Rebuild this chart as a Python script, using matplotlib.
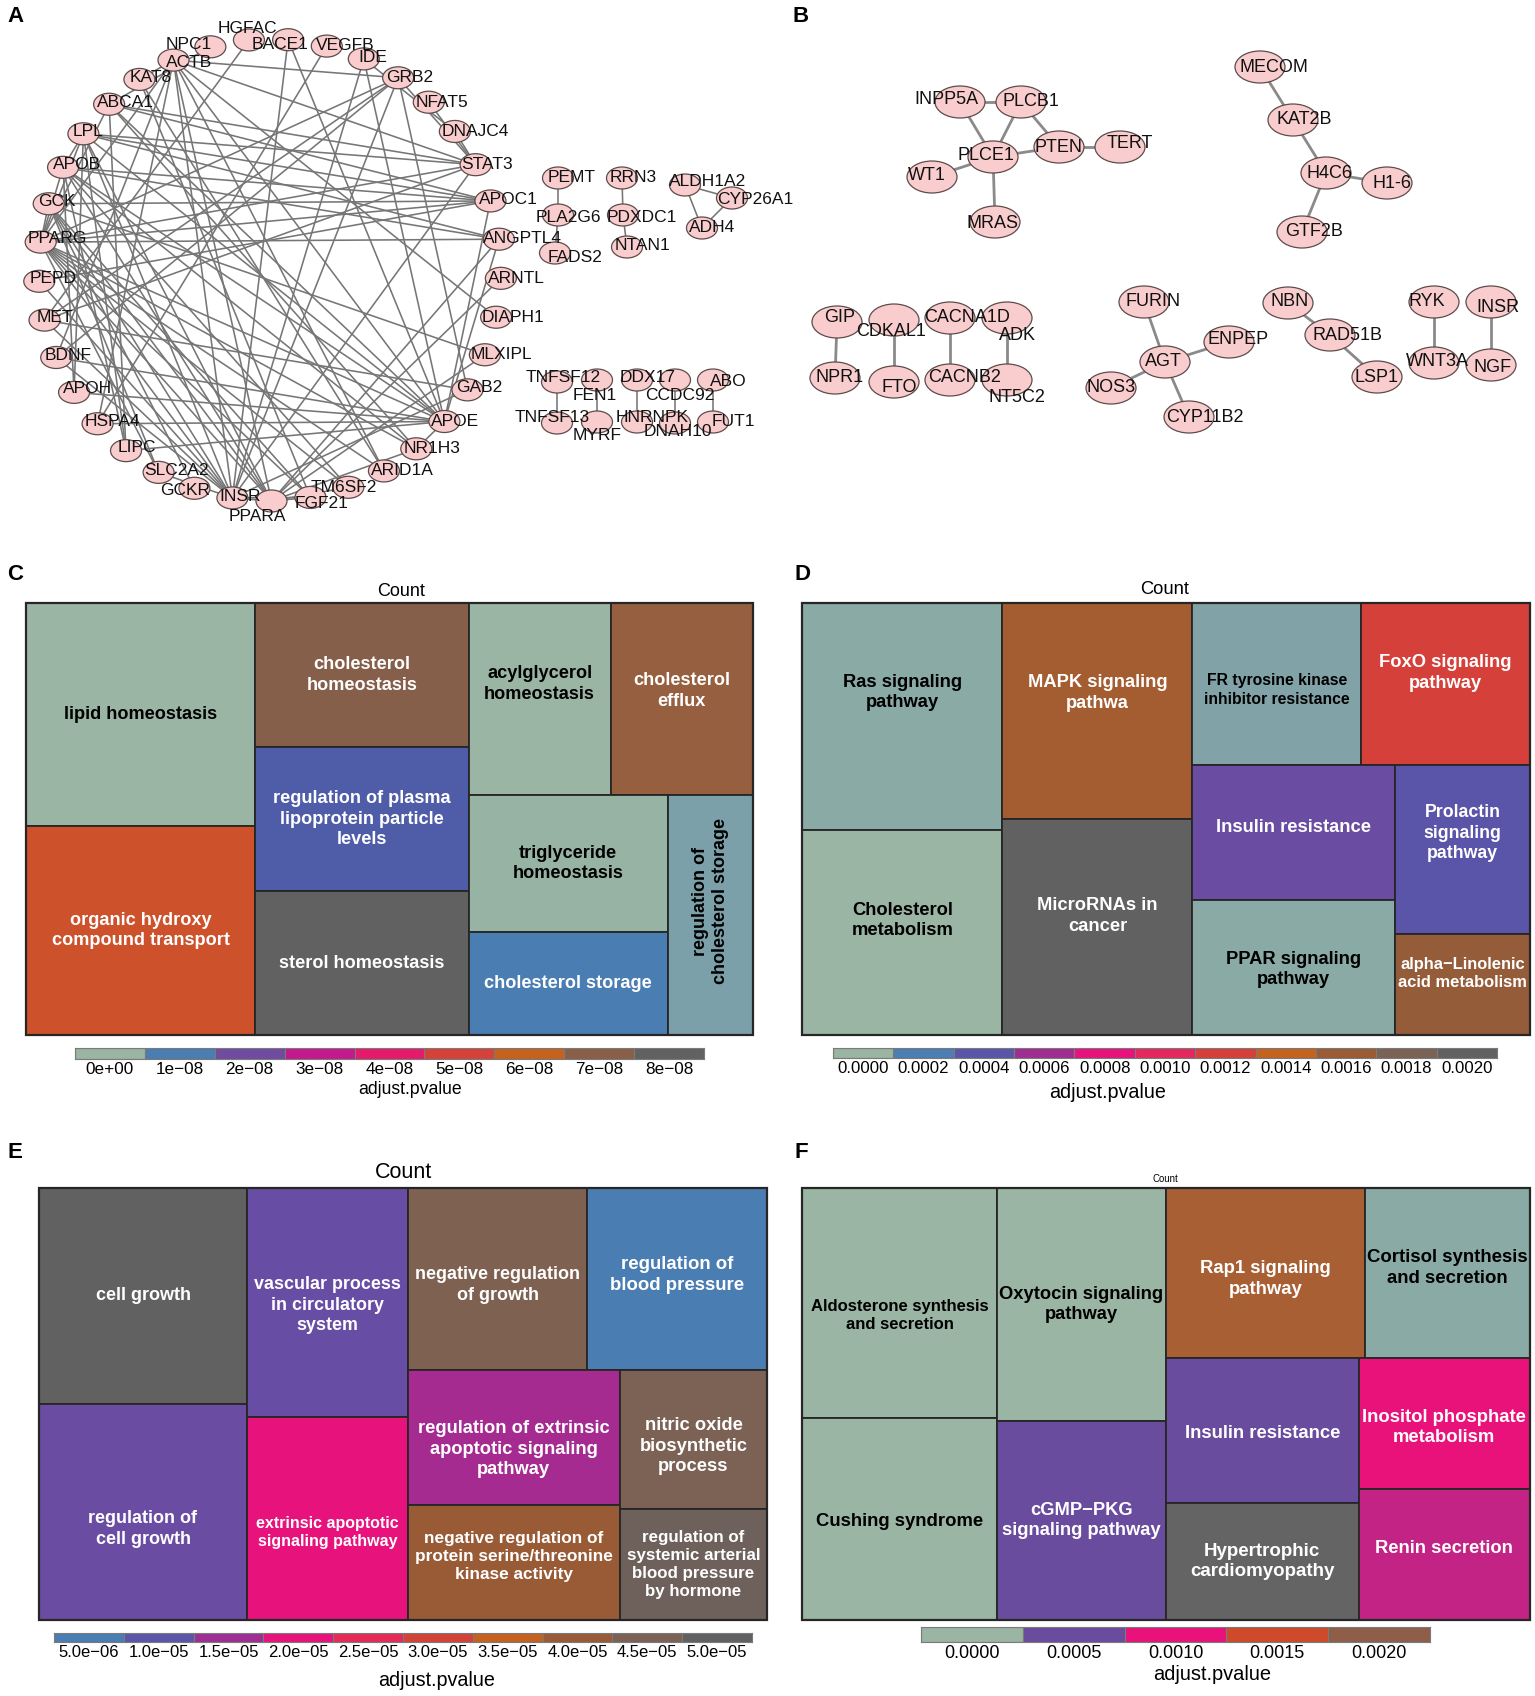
import matplotlib
matplotlib.use("Agg")
import matplotlib.pyplot as plt
from matplotlib.patches import Rectangle, Ellipse
from matplotlib.colors import LinearSegmentedColormap, Normalize, to_rgb
import numpy as np

plt.rcParams['font.family'] = ['Liberation Sans', 'DejaVu Sans']

W, H = 1535, 1696

# ======================= DATA =======================
# ---- Panel A : circular PPI network ----
A_circle_nodes = ["BACE1", "VEGFB", "IDE", "GRB2", "NFAT5", "DNAJC4", "STAT3", "APOC1", "ANGPTL4",
                  "ARNTL", "DIAPH1", "MLXIPL", "GAB2", "APOE", "NR1H3", "ARID1A", "TM6SF2", "FGF21",
                  "PPARA", "INSR", "GCKR", "SLC2A2", "LIPC", "HSPA4", "APOH", "BDNF", "MET", "PEPD",
                  "PPARG", "GCK", "APOB", "LPL", "ABCA1", "KAT8", "ACTB", "NPC1", "HGFAC"]
A_circle_edges = [
    ("PPARG", "ANGPTL4"), ("PPARG", "STAT3"), ("PPARG", "APOC1"), ("PPARG", "APOE"), ("PPARG", "PPARA"),
    ("PPARG", "INSR"), ("PPARG", "FGF21"), ("PPARG", "NR1H3"), ("PPARG", "LPL"), ("PPARG", "ABCA1"),
    ("PPARG", "APOB"), ("PPARG", "GCK"), ("PPARG", "ACTB"), ("PPARG", "SLC2A2"), ("PPARG", "ARID1A"),
    ("PPARG", "GRB2"), ("PPARG", "TM6SF2"),
    ("GCK", "INSR"), ("GCK", "GCKR"), ("GCK", "SLC2A2"), ("GCK", "PPARA"), ("GCK", "FGF21"),
    ("GCK", "MLXIPL"), ("GCK", "APOC1"),
    ("APOB", "APOE"), ("APOB", "APOC1"), ("APOB", "LPL"), ("APOB", "LIPC"), ("APOB", "APOH"),
    ("APOB", "ANGPTL4"), ("APOB", "TM6SF2"), ("APOB", "PPARA"), ("APOB", "NR1H3"),
    ("LPL", "APOE"), ("LPL", "APOC1"), ("LPL", "ANGPTL4"), ("LPL", "LIPC"), ("LPL", "APOH"),
    ("LPL", "PPARA"), ("LPL", "STAT3"), ("LPL", "INSR"),
    ("ABCA1", "APOE"), ("ABCA1", "NR1H3"), ("ABCA1", "APOC1"), ("ABCA1", "STAT3"), ("ABCA1", "LIPC"),
    ("ABCA1", "NPC1"),
    ("ACTB", "GRB2"), ("ACTB", "STAT3"), ("ACTB", "INSR"), ("ACTB", "APOE"), ("ACTB", "HSPA4"),
    ("ACTB", "KAT8"), ("ACTB", "ARID1A"), ("ACTB", "DIAPH1"), ("ACTB", "PPARA"), ("ACTB", "BDNF"),
    ("KAT8", "ARID1A"), ("KAT8", "FGF21"),
    ("HGFAC", "MET"), ("BACE1", "APOE"), ("BACE1", "INSR"), ("VEGFB", "HSPA4"), ("IDE", "INSR"),
    ("IDE", "APOE"), ("IDE", "DNAJC4"),
    ("GRB2", "INSR"), ("GRB2", "MET"), ("GRB2", "GAB2"), ("GRB2", "STAT3"), ("GRB2", "BDNF"),
    ("NFAT5", "STAT3"), ("DNAJC4", "STAT3"),
    ("APOC1", "APOE"), ("ANGPTL4", "APOE"), ("ANGPTL4", "PPARA"),
    ("ARNTL", "PPARA"), ("MLXIPL", "PPARA"),
    ("GAB2", "INSR"), ("GAB2", "MET"),
    ("APOE", "APOH"), ("APOE", "LIPC"), ("APOE", "NR1H3"), ("APOE", "BDNF"), ("APOE", "HSPA4"),
    ("PPARA", "FGF21"), ("PPARA", "INSR"), ("PPARA", "NR1H3"), ("PPARA", "TM6SF2"),
    ("INSR", "SLC2A2"), ("INSR", "STAT3"), ("INSR", "FGF21"), ("INSR", "MET"), ("INSR", "BDNF"),
    ("MET", "STAT3"), ("PEPD", "INSR"), ("PEPD", "APOC1"),
]
# small components of panel A (layout positions in px)
A_side_nodes = ["PEMT", "PLA2G6", "FADS2", "RRN3", "PDXDC1", "NTAN1", "ALDH1A2", "CYP26A1", "ADH4",
                "TNFSF12", "TNFSF13", "FEN1", "MYRF", "DDX17", "HNRNPK", "CCDC92", "DNAH10", "ABO", "FUT1"]
A_side_x = [558, 558, 555, 622, 623, 627, 685, 732, 702, 557, 557, 597, 597, 637, 637, 675, 675, 713, 713]
A_side_y = [178, 215, 253, 178, 215, 247, 185, 198, 228, 382, 423, 380, 422, 380, 422, 380, 423, 380, 422]
A_side_edges = [("PEMT", "PLA2G6"), ("PLA2G6", "FADS2"), ("RRN3", "PDXDC1"), ("PDXDC1", "NTAN1"),
                ("ALDH1A2", "CYP26A1"), ("ALDH1A2", "ADH4"), ("ADH4", "CYP26A1"),
                ("TNFSF12", "TNFSF13"), ("FEN1", "MYRF"), ("DDX17", "HNRNPK"),
                ("CCDC92", "DNAH10"), ("ABO", "FUT1")]

# ---- Panel B : small networks ----
B_nodes = ["INPP5A", "PLCB1", "PLCE1", "PTEN", "TERT", "WT1", "MRAS",
           "MECOM", "KAT2B", "H4C6", "H1-6", "GTF2B",
           "GIP", "CDKAL1", "CACNA1D", "ADK", "NPR1", "FTO", "CACNB2", "NT5C2",
           "FURIN", "AGT", "ENPEP", "NOS3", "CYP11B2", "NBN", "RAD51B", "LSP1",
           "RYK", "WNT3A", "INSR", "NGF"]
B_x = [960, 1021, 993, 1059, 1120, 932, 995,
       1260, 1293, 1326, 1387, 1302,
       837, 894, 950, 1007, 835, 894, 950, 1007,
       1144, 1165, 1229, 1111, 1189, 1288, 1330, 1377,
       1434, 1434, 1491, 1491]
B_y = [102, 102, 157, 147, 147, 177, 222,
       67, 120, 173, 183, 232,
       322, 320, 318, 318, 378, 382, 380, 380,
       302, 362, 342, 388, 417, 303, 335, 377,
       302, 363, 302, 365]
B_edges = [("INPP5A", "PLCB1"), ("INPP5A", "PLCE1"), ("PLCB1", "PLCE1"), ("PLCB1", "PTEN"),
           ("PLCE1", "PTEN"), ("PTEN", "TERT"), ("PLCE1", "WT1"), ("PLCE1", "MRAS"),
           ("MECOM", "KAT2B"), ("KAT2B", "H4C6"), ("H4C6", "H1-6"), ("H4C6", "GTF2B"),
           ("GIP", "NPR1"), ("CDKAL1", "FTO"), ("CACNA1D", "CACNB2"), ("ADK", "NT5C2"),
           ("FURIN", "AGT"), ("AGT", "ENPEP"), ("AGT", "NOS3"), ("AGT", "CYP11B2"),
           ("NBN", "RAD51B"), ("RAD51B", "LSP1"), ("RYK", "WNT3A"), ("INSR", "NGF")]

# ---- Panel C : GO treemap ----
C_labels = ["lipid homeostasis", "organic hydroxy\ncompound transport", "cholesterol\nhomeostasis",
            "regulation of plasma\nlipoprotein particle\nlevels", "sterol homeostasis",
            "acylglycerol\nhomeostasis", "cholesterol\nefflux", "triglyceride\nhomeostasis",
            "cholesterol storage", "regulation of\ncholesterol storage"]
C_counts = [15, 14, 9, 9, 9, 8, 8, 8, 6, 6]
C_pvalues = [1.0e-10, 5.5e-08, 7.1e-08, 1.5e-08, 8.0e-08, 3.0e-10, 6.8e-08, 5.0e-10, 1.0e-08, 4.0e-09]
C_ticks = [0, 1e-08, 2e-08, 3e-08, 4e-08, 5e-08, 6e-08, 7e-08, 8e-08]
C_ticklabels = ["0e+00", "1e\u221208", "2e\u221208", "3e\u221208", "4e\u221208", "5e\u221208",
                "6e\u221208", "7e\u221208", "8e\u221208"]

# ---- Panel D : KEGG treemap ----
D_labels = ["Ras signaling\npathway", "Cholesterol\nmetabolism", "MAPK signaling\npathwa",
            "MicroRNAs in\ncancer", "FR tyrosine kinase\ninhibitor resistance", "FoxO signaling\npathway",
            "Insulin resistance", "PPAR signaling\npathway", "Prolactin\nsignaling\npathway",
            "alpha\u2212Linolenic\nacid metabolism"]
D_counts = [10, 9, 9, 9, 6, 6, 6, 6, 5, 3]
D_pvalues = [4e-05, 1e-06, 1.55e-03, 2.0e-03, 7e-05, 1.2e-03, 4.5e-04, 4e-05, 4.0e-04, 1.63e-03]
D_ticks = [0, 0.0002, 0.0004, 0.0006, 0.0008, 0.0010, 0.0012, 0.0014, 0.0016, 0.0018, 0.0020]
D_ticklabels = ["0.0000", "0.0002", "0.0004", "0.0006", "0.0008", "0.0010", "0.0012", "0.0014",
                "0.0016", "0.0018", "0.0020"]

# ---- Panel E : GO treemap ----
E_labels = ["cell growth", "regulation of\ncell growth", "vascular process\nin circulatory\nsystem",
            "extrinsic apoptotic\nsignaling pathway", "negative regulation\nof growth",
            "regulation of\nblood pressure", "regulation of extrinsic\napoptotic signaling\npathway",
            "negative regulation of\nprotein serine/threonine\nkinase activity",
            "nitric oxide\nbiosynthetic\nprocess", "regulation of\nsystemic arterial\nblood pressure\nby hormone"]
E_counts = [11, 11, 9, 8, 8, 8, 7, 6, 5, 4]
E_pvalues = [5.0e-05, 1.12e-05, 1.1e-05, 2.0e-05, 4.45e-05, 5.0e-06, 1.55e-05, 4.0e-05, 4.5e-05, 4.75e-05]
E_ticks = [5e-06, 1e-05, 1.5e-05, 2e-05, 2.5e-05, 3e-05, 3.5e-05, 4e-05, 4.5e-05, 5e-05]
E_ticklabels = ["5.0e\u221206", "1.0e\u221205", "1.5e\u221205", "2.0e\u221205", "2.5e\u221205",
                "3.0e\u221205", "3.5e\u221205", "4.0e\u221205", "4.5e\u221205", "5.0e\u221205"]

# ---- Panel F : KEGG treemap ----
F_labels = ["Aldosterone synthesis\nand secretion", "Cushing syndrome", "Oxytocin signaling\npathway",
            "cGMP\u2212PKG\nsignaling pathway", "Rap1 signaling\npathway", "Cortisol synthesis\nand secretion",
            "Insulin resistance", "Hypertrophic\ncardiomyopathy", "Inositol phosphate\nmetabolism",
            "Renin secretion"]
F_counts = [8, 7, 7, 6, 6, 5, 5, 4, 4, 4]
F_pvalues = [1e-06, 2e-06, 3e-06, 5.0e-04, 1.87e-03, 5e-05, 5.0e-04, 2.5e-03, 1.0e-03, 8.5e-04]
F_ticks = [0, 0.0005, 0.0010, 0.0015, 0.0020]
F_ticklabels = ["0.0000", "0.0005", "0.0010", "0.0015", "0.0020"]

# ======================= STYLE =======================
SAGE, BLUE, INDIGO, PURP = '#9AB5A3', '#4A7DB2', '#5A55A8', '#6F4CA0'
C_anchor = [(0, SAGE), (1e-08, BLUE), (1.5e-08, '#4F5BA8'), (2e-08, PURP), (3e-08, '#C4198C'),
            (4e-08, '#E5196C'), (5e-08, '#D5413A'), (6e-08, '#C5621F'), (7e-08, '#8B5F48'),
            (8e-08, '#616161')]
D_anchor = [(0, SAGE), (0.0002, BLUE), (0.0004, INDIGO), (0.0006, '#A02D93'), (0.0008, '#E8127C'),
            (0.0010, '#E42760'), (0.0012, '#D5413A'), (0.0014, '#C5621F'), (0.0016, '#9A5B35'),
            (0.0018, '#7B6254'), (0.0020, '#616161')]
E_anchor = [(5e-06, BLUE), (1e-05, INDIGO), (1.5e-05, '#A02D93'), (2e-05, '#E8127C'),
            (2.5e-05, '#E42A58'), (3e-05, '#D24337'), (3.5e-05, '#C5621F'), (4e-05, '#9A5B35'),
            (4.5e-05, '#7B6254'), (5e-05, '#616161')]
F_anchor = [(0, SAGE), (0.00025, BLUE), (0.0005, '#6A4C9F'), (0.0010, '#E8127A'), (0.0015, '#CE4A2B'),
            (0.00175, '#C0601F'), (0.0020, '#8E5E48'), (0.0025, '#646464')]

C_struct = ('h', [('v', [0, 1]), ('v', [2, 3, 4]),
                  ('v', [('h', [5, 6]), ('h', [('v', [7, 8]), 9])])])
DEF_struct = ('h', [('v', [0, 1]), ('v', [2, 3]),
                    ('v', [('h', [4, 5]), ('h', [('v', [6, 7]), ('v', [8, 9])])])])

A_center, A_radius, A_start = (270, 270), 231, 85.5
A_lab_off = [(-8, 5), (18, -1), (9, -1), (12, 0), (13, 0), (20, 0), (11, 0), (18, -1), (24, -1),
             (16, 0), (17, 0), (17, 0), (12, -2), (11, 0), (16, 0), (18, 0), (-5, 0), (11, 6),
             (-14, 16), (8, -1), (-9, 2), (18, -2), (11, -3), (15, -2), (13, -4), (12, -2), (10, -3),
             (14, -3), (17, -4), (8, -2), (14, -3), (5, -2), (16, -2), (11, -2), (16, 2), (-22, -2), (-2, -11)]
A_side_off = [(14, -1), (10, 2), (20, 4), (11, -1), (19, 2), (16, -2), (23, -4), (23, 2), (10, -1),
              (6, -5), (-5, -6), (-2, 15), (0, 13), (11, -3), (15, -5), (5, 15), (3, 9), (15, 2), (20, 0)]
B_lab_off = [(-14, -3), (10, -1), (-7, -1), (0, 0), (10, -3), (-5, -2), (-2, 2),
             (14, 0), (11, -1), (4, 0), (5, 0), (12, -1),
             (3, -4), (-3, 12), (17, -1), (10, 17), (5, 0), (5, 5), (15, -2), (10, 17),
             (9, 0), (-2, 0), (9, -2), (0, 0), (16, 0), (2, -1), (17, 0), (0, 0),
             (-7, 0), (3, -1), (7, 5), (2, 3)]

NODE_FC, NODE_EC = '#F9CDCD', '#5E4B4B'
LINESP = 1.27

fig = plt.figure(figsize=(W / 100, H / 100), dpi=100)
ov = fig.add_axes([0, 0, 1, 1])
ov.set_xlim(0, W)
ov.set_ylim(H, 0)
ov.axis('off')


def px_axes(x0, y0, x1, y1):
    return fig.add_axes([x0 / W, 1 - y1 / H, (x1 - x0) / W, (y1 - y0) / H])


# ---------- panel letters ----------
for letter, (lx, ly) in zip("ABCDEF", [(15, 17), (801, 16), (15, 574), (802, 574), (15, 1153), (801, 1152)]):
    ov.text(lx, ly, letter, fontsize=16, fontweight='bold', ha='center', va='center')


# ---------- networks ----------
def draw_network(pos, edges, labels_off, w, h, fs, ecol, elw):
    for a, b in edges:
        (x1, y1), (x2, y2) = pos[a], pos[b]
        ov.plot([x1, x2], [y1, y2], color=ecol, lw=elw, zorder=1, solid_capstyle='round')
    for name in labels_off:
        x, y = pos[name]
        ov.add_patch(Ellipse((x, y), w, h, facecolor=NODE_FC, edgecolor=NODE_EC, lw=0.9, zorder=2))
    for name, (dx, dy) in labels_off.items():
        x, y = pos[name]
        ov.text(x + dx, y + dy, name, fontsize=fs, ha='center', va='center', zorder=3, color='#111111')


n = len(A_circle_nodes)
posA = {}
for i, name in enumerate(A_circle_nodes):
    th = np.deg2rad(A_start - i * 360.0 / n)
    posA[name] = (A_center[0] + A_radius * np.cos(th), A_center[1] - A_radius * np.sin(th))
offA = dict(zip(A_circle_nodes, A_lab_off))
for name, x, y, o in zip(A_side_nodes, A_side_x, A_side_y, A_side_off):
    posA[name] = (x, y)
    offA[name] = o
draw_network(posA, A_circle_edges + A_side_edges, offA, 31, 22, 12.5, '#767676', 1.15)

posB = {nm: (x, y) for nm, x, y in zip(B_nodes, B_x, B_y)}
offB = dict(zip(B_nodes, B_lab_off))
draw_network(posB, B_edges, offB, 50, 32, 13.0, '#8A8A8A', 2.0)


# ---------- treemaps ----------
def total(node, counts):
    if isinstance(node, int):
        return counts[node]
    return sum(total(c, counts) for c in node[1])


def layout(node, x0, y0, x1, y1, counts, out):
    if isinstance(node, int):
        out[node] = (x0, y0, x1, y1)
        return
    kind, children = node
    tots = [total(c, counts) for c in children]
    s = float(sum(tots))
    if kind == 'h':
        x = x0
        for c, t in zip(children, tots):
            w = (x1 - x0) * t / s
            layout(c, x, y0, x + w, y1, counts, out)
            x += w
    else:
        y = y0
        for c, t in zip(children, tots):
            hh = (y1 - y0) * t / s
            layout(c, x0, y, x1, y + hh, counts, out)
            y += hh


def make_cmap(anchor):
    vals = [a[0] for a in anchor]
    vmin, vmax = vals[0], vals[-1]
    pos = [(v - vmin) / (vmax - vmin) for v in vals]
    cmap = LinearSegmentedColormap.from_list('tm', list(zip(pos, [a[1] for a in anchor])))
    return cmap, Normalize(vmin, vmax, clip=True)


def lum(c):
    r, g, b = to_rgb(c)
    return 0.299 * r + 0.587 * g + 0.114 * b


def draw_treemap(box, struct, counts, labels, pvals, anchor, fsizes, dys, rotated=()):
    ax = px_axes(*box)
    ax.set_xlim(0, 1)
    ax.set_ylim(1, 0)
    ax.axis('off')
    cmap, norm = make_cmap(anchor)
    rects = {}
    layout(struct, 0, 0, 1, 1, counts, rects)
    bh = box[3] - box[1]
    for i, (x0, y0, x1, y1) in rects.items():
        col = cmap(norm(pvals[i]))
        ax.add_patch(Rectangle((x0, y0), x1 - x0, y1 - y0, facecolor=col, edgecolor='#262626',
                               lw=1.3, clip_on=False))
        tc = 'black' if lum(col) > 0.5 else 'white'
        ax.text((x0 + x1) / 2, (y0 + y1) / 2 + dys[i] / bh, labels[i], ha='center', va='center',
                fontsize=fsizes[i], fontweight='bold', color=tc, linespacing=LINESP,
                rotation=90 if i in rotated else 0)
    ax.add_patch(Rectangle((0, 0), 1, 1, fill=False, edgecolor='#262626', lw=1.6, clip_on=False))
    return cmap, norm


def draw_legend(box, ticks, ticklabels, cmap, norm, fs):
    ax = px_axes(*box)
    nb = len(ticks)
    for i, t in enumerate(ticks):
        ax.add_patch(Rectangle((i, 0), 1, 1, facecolor=cmap(norm(t)), edgecolor='#7a7a7a', lw=0.8))
    ax.set_xlim(0, nb)
    ax.set_ylim(0, 1)
    ax.set_xticks(np.arange(nb) + 0.5)
    ax.set_xticklabels(ticklabels, fontsize=fs)
    ax.tick_params(length=0, pad=2)
    ax.set_yticks([])
    for s in ax.spines.values():
        s.set_color('#7a7a7a')
        s.set_linewidth(0.8)


# C
cm, nm = draw_treemap((26, 603, 753, 1035), C_struct, C_counts, C_labels, C_pvalues, C_anchor,
                      [13.1] * 9 + [13.0], [0, 0, 0, 0, 0, -15, -8, 0, 0, -14], rotated=(9,))
draw_legend((75, 1048, 704, 1059), C_ticks, C_ticklabels, cm, nm, 12.3)
ov.text(401, 591, "Count", fontsize=13, ha='center', va='center')
ov.text(410, 1090, "adjust.pvalue", fontsize=12.7, ha='center', va='center')

# D
cm, nm = draw_treemap((802, 603, 1530, 1035), DEF_struct, D_counts, D_labels, D_pvalues, D_anchor,
                      [13.2, 13.2, 13.2, 13.2, 11.3, 13.2, 13.2, 13.2, 12.8, 11.9],
                      [-24, -12, -18, -11, 6, -11, -5, 2, -16, -11])
draw_legend((833, 1048, 1497, 1058), D_ticks, D_ticklabels, cm, nm, 12.1)
ov.text(1165, 589, "Count", fontsize=13.2, ha='center', va='center')
ov.text(1108, 1092, "adjust.pvalue", fontsize=14.2, ha='center', va='center')

# E
cm, nm = draw_treemap((39, 1188, 767, 1620), DEF_struct, E_counts, E_labels, E_pvalues, E_anchor,
                      [13.0, 13.0, 12.9, 11.5, 13.0, 13.4, 13.2, 12.4, 13.2, 12.2],
                      [0, 17, 3, 14, 6, -4, 12, -6, 7, 0])
draw_legend((54, 1633, 752, 1642), E_ticks, E_ticklabels, cm, nm, 12.0)
ov.text(403, 1172, "Count", fontsize=15.5, ha='center', va='center')
ov.text(437, 1681, "adjust.pvalue", fontsize=14.2, ha='center', va='center')

# F
cm, nm = draw_treemap((802, 1188, 1530, 1620), DEF_struct, F_counts, F_labels, F_pvalues, F_anchor,
                      [12.0, 13.3, 13.2, 13.2, 13.3, 13.4, 13.3, 13.5, 13.3, 13.2],
                      [12, 2, 0, 0, 6, -5, 3, 0, 4, -6])
draw_legend((921, 1627, 1430, 1642), F_ticks, F_ticklabels, cm, nm, 13.0)
ov.text(1165, 1179, "Count", fontsize=6.9, ha='center', va='center')
ov.text(1212, 1675, "adjust.pvalue", fontsize=14.4, ha='center', va='center')

fig.savefig("out.png", dpi=100)
